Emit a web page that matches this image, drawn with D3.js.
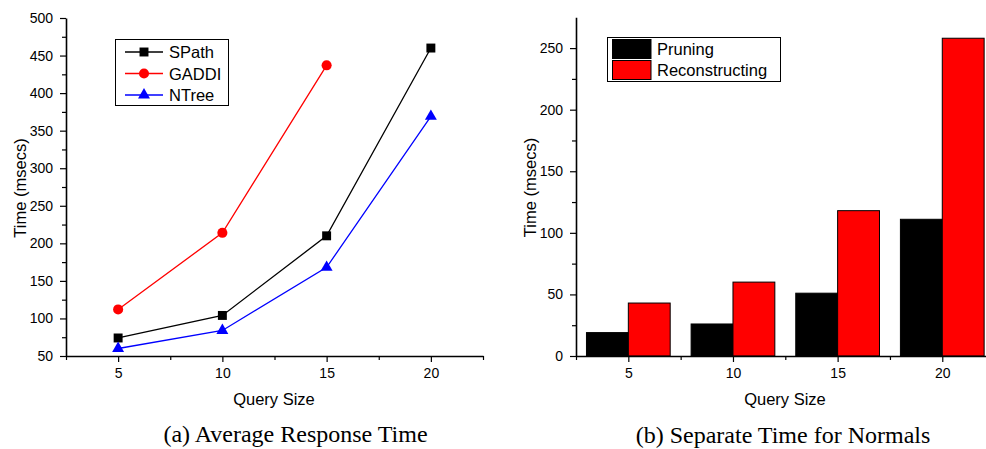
<!DOCTYPE html>
<html>
<head>
<meta charset="utf-8">
<script src="https://cdn.jsdelivr.net/npm/d3@7"></script>
<style>
  body { margin: 0; background: #fff; }
  svg { display: block; }
  text { font-family: "Liberation Sans", Arial, sans-serif; }
</style>
</head>
<body>
<div id="container"></div>
<script>
var w = 986;
var h = 449;

// data
var querySizes = [5, 10, 15, 20];
var spath = [74, 104, 210, 460];
var gaddi = [112, 214, 437];
var ntree = [60, 84, 168, 369];
var pruning = [19, 26, 51, 111];
var reconstructing = [43, 60, 118, 258];
var leftYTicks = [50, 100, 150, 200, 250, 300, 350, 400, 450, 500];
var rightYTicks = [0, 50, 100, 150, 200, 250];

var svg = d3.select("div#container")
    .append("svg")
    .attr("width", w)
    .attr("height", h)
    .style("background-color", "#fff");

function drawAxes(g, x, y, yMajor, yMinor, xMinor) {
  // minor ticks first
  g.append("g")
      .attr("transform", "translate(0," + y.range()[0] + ")")
      .call(d3.axisBottom(x).tickValues(xMinor).tickSize(4).tickFormat(""))
      .call(s => s.select(".domain").remove());
  g.append("g")
      .attr("transform", "translate(" + x.range()[0] + ",0)")
      .call(d3.axisLeft(y).tickValues(yMinor).tickSize(4).tickFormat(""))
      .call(s => s.select(".domain").remove());

  g.append("g")
      .attr("transform", "translate(0," + y.range()[0] + ")")
      .call(d3.axisBottom(x).tickValues(querySizes).tickSize(6).tickSizeOuter(0).tickPadding(6));
  g.append("g")
      .attr("transform", "translate(" + x.range()[0] + ",0)")
      .call(d3.axisLeft(y).tickValues(yMajor).tickSize(6).tickSizeOuter(0).tickPadding(7));

  g.selectAll(".tick text").style("font-size", "14px").style("font-family", "'Liberation Sans', Arial, sans-serif").attr("fill", "#000");
  g.selectAll(".tick line").attr("stroke", "#000").attr("stroke-width", 1.2);
  g.selectAll(".domain").attr("stroke", "#000").attr("stroke-width", 1.6);
}

// ---------- (a) line chart ----------
var xL = d3.scaleLinear().domain([2.5, 22.5]).range([66, 483]);
var yL = d3.scaleLinear().domain([50, 500]).range([356, 18]);

var gL = svg.append("g");
drawAxes(gL, xL, yL, leftYTicks,
  d3.range(75, 500, 50), [2.5, 7.5, 12.5, 17.5, 22.5]);

gL.append("text")
    .attr("transform", "translate(26," + ((18 + 356) / 2 + 1) + ") rotate(-90)")
    .attr("text-anchor", "middle")
    .style("font-size", "16.5px")
    .text("Time (msecs)");
gL.append("text")
    .attr("x", 274)
    .attr("y", 405)
    .attr("text-anchor", "middle")
    .style("font-size", "16.5px")
    .text("Query Size");

var series = [
  {name: "SPath", values: spath, color: "#000", shape: d3.symbolSquare, size: 80},
  {name: "GADDI", values: gaddi, color: "#f00", shape: d3.symbolCircle, size: 80},
  {name: "NTree", values: ntree, color: "#00f", shape: d3.symbolTriangle, size: 62}
];

var line = d3.line()
    .x((d, i) => xL(querySizes[i]))
    .y(d => yL(d));

series.forEach(function(s) {
  gL.append("path")
      .datum(s.values)
      .attr("fill", "none")
      .attr("stroke", s.color)
      .attr("stroke-width", 1.3)
      .attr("d", line);
  gL.selectAll(null)
      .data(s.values)
      .enter()
      .append("path")
      .attr("transform", (d, i) => "translate(" + xL(querySizes[i]) + "," + yL(d) + ")")
      .attr("d", d3.symbol().type(s.shape).size(s.size))
      .attr("fill", s.color);
});

// legend (a)
var legL = gL.append("g");
legL.append("rect")
    .attr("x", 115.5).attr("y", 39.5)
    .attr("width", 113).attr("height", 66)
    .attr("fill", "#fff").attr("stroke", "#000").attr("stroke-width", 1);
series.forEach(function(s, i) {
  var cy = 52 + i * 21.5;
  legL.append("line")
      .attr("x1", 125).attr("x2", 163)
      .attr("y1", cy).attr("y2", cy)
      .attr("stroke", s.color).attr("stroke-width", 1.3);
  legL.append("path")
      .attr("transform", "translate(144," + cy + ")")
      .attr("d", d3.symbol().type(s.shape).size(s.size))
      .attr("fill", s.color);
  legL.append("text")
      .attr("x", 169).attr("y", cy + 6)
      .style("font-size", "16.5px")
      .text(s.name);
});

svg.append("text")
    .attr("x", 295.5).attr("y", 442)
    .attr("text-anchor", "middle")
    .style("font-family", "'Liberation Serif', 'Times New Roman', serif")
    .style("font-size", "24px")
    .text("(a) Average Response Time");

// ---------- (b) bar chart ----------
var xR = d3.scaleLinear().domain([2.5, 22.5]).range([576, 994.6]);
var yR = d3.scaleLinear().domain([0, 275]).range([356, 17.3]);

var gR = svg.append("g");

var bars = [
  {name: "Pruning", values: pruning, color: "#000", off: -2},
  {name: "Reconstructing", values: reconstructing, color: "#f00", off: 0}
];

bars.forEach(function(b) {
  gR.selectAll(null)
      .data(b.values)
      .enter()
      .append("rect")
      .attr("x", (d, i) => xR(querySizes[i] + b.off))
      .attr("width", (d, i) => xR(querySizes[i] + b.off + 2) - xR(querySizes[i] + b.off))
      .attr("y", d => yR(d))
      .attr("height", d => yR(0) - yR(d))
      .attr("fill", b.color)
      .attr("stroke", "#000")
      .attr("stroke-width", 1);
});

drawAxes(gR, xR, yR, rightYTicks,
  d3.range(25, 275, 50), [2.5, 7.5, 12.5, 17.5, 22.5]);

gR.append("text")
    .attr("transform", "translate(536," + ((17 + 356) / 2 + 1) + ") rotate(-90)")
    .attr("text-anchor", "middle")
    .style("font-size", "16.5px")
    .text("Time (msecs)");
gR.append("text")
    .attr("x", 785)
    .attr("y", 405)
    .attr("text-anchor", "middle")
    .style("font-size", "16.5px")
    .text("Query Size");

// legend (b)
var legR = gR.append("g");
legR.append("rect")
    .attr("x", 607.5).attr("y", 37.5)
    .attr("width", 173).attr("height", 44)
    .attr("fill", "#fff").attr("stroke", "#000").attr("stroke-width", 1);
bars.forEach(function(b, i) {
  var top = 39.5 + i * 21;
  legR.append("rect")
      .attr("x", 612.5).attr("y", top)
      .attr("width", 38.5).attr("height", 19)
      .attr("fill", b.color).attr("stroke", "#000").attr("stroke-width", 1);
  legR.append("text")
      .attr("x", 657).attr("y", top + 15.5)
      .style("font-size", "16.5px")
      .text(b.name);
});

svg.append("text")
    .attr("x", 783).attr("y", 443)
    .attr("text-anchor", "middle")
    .style("font-family", "'Liberation Serif', 'Times New Roman', serif")
    .style("font-size", "24px")
    .text("(b) Separate Time for Normals");
</script>
</body>
</html>
